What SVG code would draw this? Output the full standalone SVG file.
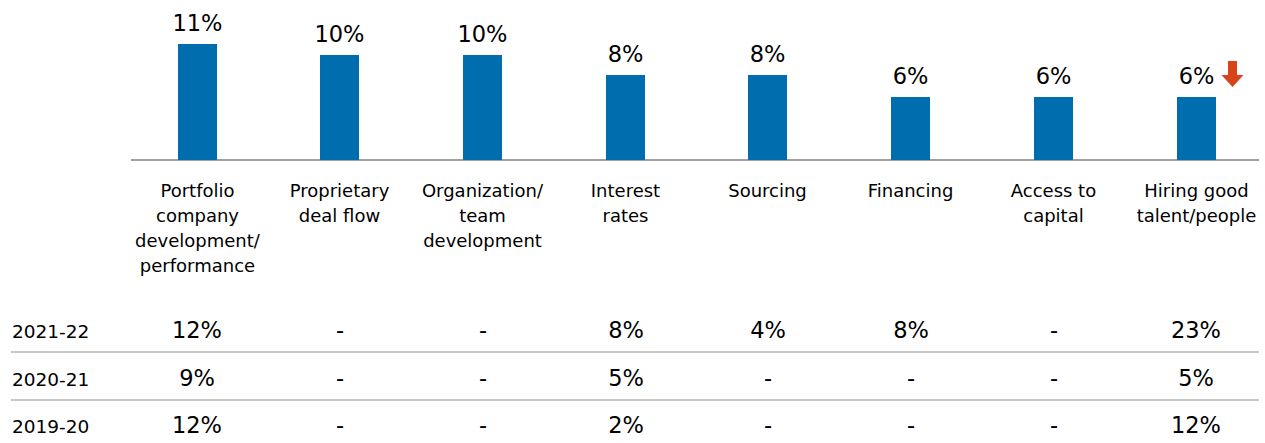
<svg xmlns="http://www.w3.org/2000/svg" width="1265" height="443" viewBox="0 0 1265 443">
<style>
.bar{fill:#006dae}
.val{font-family:"DejaVu Sans",sans-serif;font-size:22.5px;fill:#000;text-anchor:middle}
.cat{font-family:"DejaVu Sans",sans-serif;font-size:18px;fill:#000;text-anchor:middle}
.row{font-family:"DejaVu Sans",sans-serif;font-size:18.5px;fill:#000}
.axis{stroke:#808080;stroke-width:1.5}
.sep{stroke:#c8c8c8;stroke-width:2}
</style>
<rect width="1265" height="443" fill="#fff"/>
<g id="axis"><line class="axis" x1="131" y1="160" x2="1259" y2="160"/></g>
<g id="bar1"><rect class="bar" x="178" y="44" width="39" height="116"/><text class="val" x="197.5" y="31">11%</text>
<text class="cat" x="197.5" y="197">Portfolio</text><text class="cat" x="197.5" y="222">company</text><text class="cat" x="197.5" y="247">development/</text><text class="cat" x="197.5" y="272">performance</text></g>
<g id="bar2"><rect class="bar" x="320" y="55" width="39" height="105"/><text class="val" x="339.5" y="42">10%</text>
<text class="cat" x="339.5" y="197">Proprietary</text><text class="cat" x="339.5" y="222">deal flow</text></g>
<g id="bar3"><rect class="bar" x="463" y="55" width="39" height="105"/><text class="val" x="482.5" y="42">10%</text>
<text class="cat" x="482.5" y="197">Organization/</text><text class="cat" x="482.5" y="222">team</text><text class="cat" x="482.5" y="247">development</text></g>
<g id="bar4"><rect class="bar" x="606" y="75" width="39" height="85"/><text class="val" x="625.5" y="62">8%</text>
<text class="cat" x="625.5" y="197">Interest</text><text class="cat" x="625.5" y="222">rates</text></g>
<g id="bar5"><rect class="bar" x="748" y="75" width="39" height="85"/><text class="val" x="767.5" y="62">8%</text>
<text class="cat" x="767.5" y="197">Sourcing</text></g>
<g id="bar6"><rect class="bar" x="891" y="97" width="39" height="63"/><text class="val" x="910.5" y="84">6%</text>
<text class="cat" x="910.5" y="197">Financing</text></g>
<g id="bar7"><rect class="bar" x="1034" y="97" width="39" height="63"/><text class="val" x="1053.5" y="84">6%</text>
<text class="cat" x="1053.5" y="197">Access to</text><text class="cat" x="1053.5" y="222">capital</text></g>
<g id="bar8"><rect class="bar" x="1177" y="97" width="39" height="63"/><text class="val" x="1196.5" y="84">6%</text>
<text class="cat" x="1196.5" y="197">Hiring good</text><text class="cat" x="1196.5" y="222">talent/people</text>
<polygon points="1228,61 1237,61 1237,75 1243.5,75 1232.5,87 1221.5,75 1228,75" fill="#d8441a"/></g>
<g id="table">
<line class="sep" x1="11" y1="352" x2="1259" y2="352"/>
<line class="sep" x1="11" y1="400" x2="1259" y2="400"/>
<text class="row" x="12" y="338">2021-22</text>
<text class="row" x="12" y="386">2020-21</text>
<text class="row" x="12" y="433">2019-20</text>
<g class="val">
<text x="197" y="338">12%</text><text x="340" y="338">-</text><text x="483" y="338">-</text><text x="626" y="338">8%</text><text x="768" y="338">4%</text><text x="911" y="338">8%</text><text x="1054" y="338">-</text><text x="1196" y="338">23%</text>
<text x="197" y="386">9%</text><text x="340" y="386">-</text><text x="483" y="386">-</text><text x="626" y="386">5%</text><text x="768" y="386">-</text><text x="911" y="386">-</text><text x="1054" y="386">-</text><text x="1196" y="386">5%</text>
<text x="197" y="433">12%</text><text x="340" y="433">-</text><text x="483" y="433">-</text><text x="626" y="433">2%</text><text x="768" y="433">-</text><text x="911" y="433">-</text><text x="1054" y="433">-</text><text x="1196" y="433">12%</text>
</g>
</g>
</svg>
